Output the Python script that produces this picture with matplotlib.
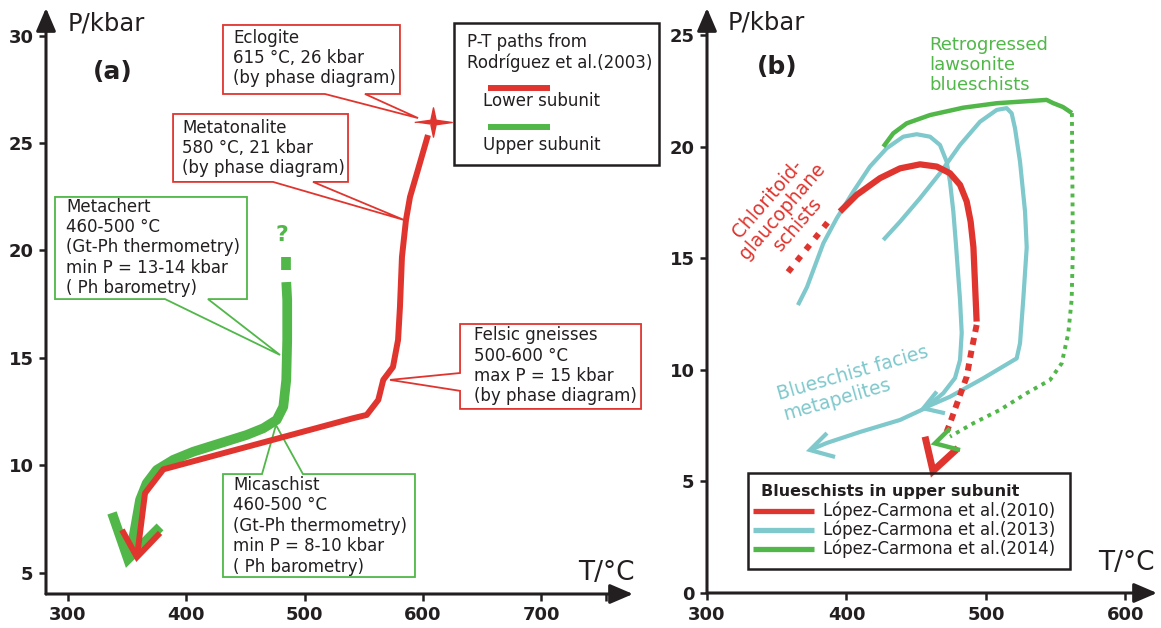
import numpy as np
import matplotlib
matplotlib.use("Agg")
import matplotlib.pyplot as plt
from matplotlib.patches import Rectangle, Polygon

RED = "#e0352f"
GREEN = "#50b748"
CYAN = "#7fc8cc"
INK = "#231f20"

# ---------------------------------------------------------------------------
# (a) P-T paths from Rodriguez et al. (2003)
lower_T = [604.3, 595.0, 589.1, 585.7, 582.3, 580.6, 579.0, 574.7, 566.5,
           562.3, 552.5, 541.2, 380.6, 365.1, 358.3]
lower_P = [25.37, 23.60, 22.49, 21.42, 19.70, 17.37, 15.84, 14.58, 13.98,
           13.05, 12.35, 12.20, 9.82, 8.71, 5.74]
lower_head_T = [345.6, 358.3, 377.8]
lower_head_P = [7.00, 5.74, 6.86]

upper_T = [484.5, 485.3, 485.3, 484.5, 482.0, 476.4, 465.1, 451.1, 428.5,
           405.9, 389.0, 375.0, 366.5, 360.9, 354.9, 350.7]
upper_P = [18.53, 17.70, 15.84, 13.98, 12.73, 12.12, 11.73, 11.42, 11.03,
           10.64, 10.26, 9.79, 9.17, 8.40, 6.53, 5.65]
upper_dash_T = [484.3, 484.3]
upper_dash_P = [19.70, 19.10]
upper_head_T = [337.2, 350.7, 377.8]
upper_head_P = [7.79, 5.65, 7.14]

eclogite = (608.5, 26.0)

# ---------------------------------------------------------------------------
# (b) blueschists in upper subunit
c2010_T = [395.3, 407.3, 424.0, 438.4, 452.7, 464.7, 474.2, 481.4, 486.2, 489.0,
           491.0, 493.3]
c2010_P = [17.10, 17.85, 18.60, 19.04, 19.22, 19.12, 18.82, 18.30, 17.55, 16.65,
           15.50, 12.17]
c2010_pro_T = [358.1, 389.6]
c2010_pro_P = [14.39, 16.86]
c2010_retro_T = [493.3, 489.7, 486.2, 480.1, 474.2, 471.8]
c2010_retro_P = [12.02, 10.90, 9.70, 8.65, 7.61, 7.23]
c2010_head_T = [456.3, 462.0, 479.9]
c2010_head_P = [7.01, 5.47, 6.50]

c2013a_T = [365.2, 371.7, 383.4, 393.0, 404.9, 416.8, 428.8, 440.7, 450.3, 459.9,
            467.0, 471.8, 474.2, 476.6, 478.5, 481.4, 482.6, 481.4, 477.8, 469.4,
            456.3, 438.4, 409.7, 386.0, 373.8]
c2013a_P = [12.91, 13.72, 15.68, 16.80, 18.00, 19.12, 19.94, 20.46, 20.57, 20.46,
            20.09, 19.34, 18.44, 17.10, 15.61, 13.14, 11.66, 10.45, 9.64, 8.96,
            8.28, 7.76, 7.22, 6.73, 6.41]
c2013a_head_T = [386.0, 373.8, 391.8]
c2013a_head_P = [7.17, 6.41, 6.10]

c2013b_T = [426.4, 438.4, 452.7, 467.0, 481.4, 495.7, 507.7, 514.8, 518.4, 520.8,
            524.4, 528.0, 529.2, 526.7, 524.4, 522.0, 498.1, 474.2, 455.1]
c2013b_P = [15.83, 16.65, 17.70, 18.82, 20.09, 21.13, 21.66, 21.74, 21.51, 20.84,
            19.34, 17.10, 15.50, 13.14, 11.20, 10.52, 9.63, 8.80, 8.28]
c2013b_head_T = [464.7, 455.1, 470.6]
c2013b_head_P = [9.03, 8.28, 8.06]

c2014_T = [426.4, 433.5, 443.2, 459.9, 483.7, 507.7, 543.5, 548.0, 555.2, 561.6]
c2014_P = [20.01, 20.61, 21.06, 21.43, 21.76, 21.96, 22.11, 21.97, 21.79, 21.52]
c2014_retro_T = [561.6, 562.3, 561.4, 559.0, 554.3, 545.9, 529.2, 510.0, 490.9, 474.2]
c2014_retro_P = [21.52, 15.38, 13.14, 11.65, 10.30, 9.55, 8.96, 8.21, 7.61, 7.01]
c2014_head_T = [474.2, 463.4, 481.4]
c2014_head_P = [7.38, 6.71, 6.41]

legend_b = ["López-Carmona et al.(2010)", "López-Carmona et al.(2013)",
            "López-Carmona et al.(2014)"]

# ---------------------------------------------------------------------------
fig = plt.figure(figsize=(11.61, 6.28), dpi=100)
axA = fig.add_axes([46 / 1161, 34 / 628, 587 / 1161, 586 / 628])
axB = fig.add_axes([707 / 1161, 35 / 628, 450 / 1161, 585 / 628])
axA.set_xlim(281.4, 777.6)
axA.set_ylim(4.02, 31.28)
axB.set_xlim(300, 622.6)
axB.set_ylim(0, 26.23)

arrow = dict(arrowstyle="-|>,head_length=0.7,head_width=0.3", lw=2.2, color=INK,
             mutation_scale=20, shrinkA=0, shrinkB=0)
for ax in (axA, axB):
    for s in ax.spines.values():
        s.set_visible(False)
    ax.annotate("", xy=(1, 0), xytext=(0, 0), xycoords="axes fraction",
                arrowprops=arrow, annotation_clip=False)
    ax.annotate("", xy=(0, 1), xytext=(0, 0), xycoords="axes fraction",
                arrowprops=arrow, annotation_clip=False)
    ax.tick_params(direction="out", length=5, width=1.8, pad=4, colors=INK)
    ax.patch.set_alpha(0)

axA.set_xticks([300, 400, 500, 600, 700, 755], ["300", "400", "500", "600", "700", ""],
               fontweight="bold", fontsize=13)
axA.set_yticks([5, 10, 15, 20, 25, 30], ["5", "10", "15", "20", "25", "30"],
               fontweight="bold", fontsize=13)
axB.set_xticks([300, 400, 500, 600], ["300", "400", "500", "600"],
               fontweight="bold", fontsize=13)
axB.set_yticks([0, 5, 10, 15, 20, 25], ["0", "5", "10", "15", "20", "25"],
               fontweight="bold", fontsize=13)


def path(ax, T, P, color, lw, dashed=None, join="round", z=3):
    kw = dict(color=color, lw=lw, solid_capstyle="butt", solid_joinstyle=join, zorder=z)
    if dashed:
        kw.update(linestyle=(0, dashed), dash_capstyle="butt")
    ax.plot(T, P, **kw)


def callout(ax, x0, y0, x1, y1, side, b1, b2, tip, color):
    if side == "bottom":
        v = [(x0, y0), (b1, y0), tip, (b2, y0), (x1, y0), (x1, y1), (x0, y1)]
    elif side == "top":
        v = [(x0, y0), (x1, y0), (x1, y1), (b2, y1), tip, (b1, y1), (x0, y1)]
    else:
        v = [(x0, y0), (x1, y0), (x1, y1), (x0, y1), (x0, b2), tip, (x0, b1)]
    ax.add_patch(Polygon(v, closed=True, fc="white", ec=color, lw=1.3,
                         zorder=1.5, clip_on=False))


# ---- panel (a)
path(axA, lower_T, lower_P, RED, 4.3)
path(axA, lower_head_T, lower_head_P, RED, 4.3, join="miter")
path(axA, upper_T, upper_P, GREEN, 7.0, z=2.8)
path(axA, upper_dash_T, upper_dash_P, GREEN, 7.0, z=2.8)
path(axA, upper_head_T, upper_head_P, GREEN, 7.0, join="miter", z=2.8)
axA.text(481, 20.7, "?", color=GREEN, fontsize=16, fontweight="bold",
         ha="center", va="center")
star = [(-1, 0), (-0.14, 0.12), (0, 0.78), (0.14, 0.12), (1, 0), (0.14, -0.12),
        (0, -0.78), (-0.14, -0.12)]
axA.plot(*eclogite, marker=star, ms=27, color=RED, mec=RED, zorder=4, clip_on=False)

txt = dict(fontsize=12, color=INK, ha="left", va="center", linespacing=1.17, zorder=5)
callout(axA, 431.0, 27.28, 580.6, 30.49, "bottom", 517.2, 551.0, (595.9, 26.16), RED)
axA.text(439.5, 28.95, "Eclogite\n615 °C, 26 kbar\n(by phase diagram)", **txt)
callout(axA, 388.8, 23.19, 536.7, 26.35, "bottom", 473.3, 507.1, (584.0, 21.42), RED)
axA.text(396.4, 24.77, "Metatonalite\n580 °C, 21 kbar\n(by phase diagram)", **txt)
callout(axA, 289.0, 17.74, 451.3, 22.49, "bottom", 382.0, 418.3, (479.2, 15.14), GREEN)
axA.text(298.3, 20.14, "Metachert\n460-500 °C\n(Gt-Ph thermometry)\n"
         "min P = 13-14 kbar\n( Ph barometry)", **txt)
callout(axA, 431.0, 4.81, 593.3, 9.60, "top", 464.0, 498.6, (475.8, 11.88), GREEN)
axA.text(439.5, 7.19, "Micaschist\n460-500 °C\n(Gt-Ph thermometry)\n"
         "min P = 8-10 kbar\n( Ph barometry)", **txt)
callout(axA, 631.4, 12.63, 784.4, 16.58, "left", 13.47, 14.30, (572.2, 13.98), RED)
axA.text(643.2, 14.63, "Felsic gneisses\n500-600 °C\nmax P = 15 kbar\n(by phase diagram)",
         **txt)

# legend box (a)
axA.add_patch(Rectangle((626.3, 23.98), 173.3, 6.6, fill=False, ec=INK, lw=1.8,
                        zorder=5, clip_on=False))
axA.text(637.3, 29.19, "P-T paths from\nRodríguez et al.(2003)", **txt)
axA.plot([655.0, 707.4], [27.56, 27.56], color=RED, lw=4.3, solid_capstyle="butt",
         clip_on=False)
axA.text(650.8, 26.95, "Lower subunit", **txt)
axA.plot([655.0, 707.4], [25.74, 25.74], color=GREEN, lw=4.3, solid_capstyle="butt",
         clip_on=False)
axA.text(650.8, 24.90, "Upper subunit", **txt)

axA.text(300, 30.58, "P/kbar", fontsize=17.5, color=INK, ha="left", va="center")
axA.text(338, 28.3, "(a)", fontsize=18, fontweight="bold", color=INK,
         ha="center", va="center")
axA.text(754.8, 5.0, "T/°C", fontsize=19, color=INK, ha="center", va="center")

# ---- panel (b)
path(axB, c2013a_T, c2013a_P, CYAN, 3.0)
path(axB, c2013a_head_T, c2013a_head_P, CYAN, 3.0, join="miter")
path(axB, c2013b_T, c2013b_P, CYAN, 3.0)
path(axB, c2013b_head_T, c2013b_head_P, CYAN, 3.0, join="miter")
path(axB, c2010_T, c2010_P, RED, 4.5, z=3.2)
path(axB, c2010_pro_T, c2010_pro_P, RED, 4.3, dashed=(1.0, 1.4), z=3.2)
path(axB, c2010_retro_T, c2010_retro_P, RED, 4.3, dashed=(1.2, 1.0), z=3.2)
path(axB, c2010_head_T, c2010_head_P, RED, 5.0, join="miter", z=3.2)
path(axB, c2014_T, c2014_P, GREEN, 3.2, z=3.3)
path(axB, c2014_retro_T, c2014_retro_P, GREEN, 2.8, dashed=(1.0, 1.3), z=3.3)
path(axB, c2014_head_T, c2014_head_P, GREEN, 3.2, join="miter", z=3.3)

axB.text(459.1, 23.68, "Retrogressed\nlawsonite\nblueschists", color=GREEN, fontsize=13,
         ha="left", va="center", linespacing=1.15)
axB.text(406.6, 9.41, "Blueschist facies\nmetapelites", color=CYAN, fontsize=13.5,
         rotation=16, rotation_mode="anchor", ha="center", va="center",
         multialignment="left", linespacing=1.1)
axB.text(354.4, 17.10, "Chloritoid-\nglaucophane\nschists", color=RED, fontsize=13.5,
         rotation=49, rotation_mode="anchor", ha="center", va="center",
         multialignment="center", linespacing=1.05)

axB.add_patch(Rectangle((329.4, 1.08), 230.8, 4.30, fill=False, ec=INK, lw=1.8, zorder=5))
axB.text(338.7, 4.53, "Blueschists in upper subunit", fontsize=11.5, fontweight="bold",
         color=INK, ha="left", va="center")
for lab, col, yy in zip(legend_b, [RED, CYAN, GREEN], [3.68, 2.83, 1.97]):
    axB.plot([333.0, 376.7], [yy, yy], color=col, lw=3.8, solid_capstyle="butt")
    axB.text(383.2, yy, lab, fontsize=12, color=INK, ha="left", va="center")

axB.text(315.1, 25.6, "P/kbar", fontsize=17.5, color=INK, ha="left", va="center")
axB.text(350.2, 23.59, "(b)", fontsize=18, fontweight="bold", color=INK,
         ha="center", va="center")
axB.text(601, 1.35, "T/°C", fontsize=19, color=INK, ha="center", va="center")

fig.savefig("out.png", dpi=100)
